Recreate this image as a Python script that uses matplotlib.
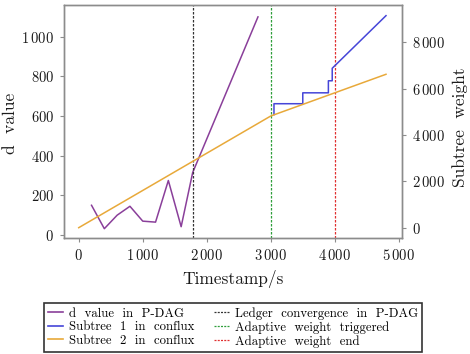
import matplotlib
matplotlib.use("Agg")
import matplotlib.pyplot as plt
from matplotlib.ticker import FuncFormatter, FixedLocator
from matplotlib.lines import Line2D

plt.rcParams['font.family'] = ['cmr10', 'DejaVu Serif']
plt.rcParams['mathtext.fontset'] = 'cm'
plt.rcParams['axes.formatter.use_mathtext'] = True

# d value in P-DAG (left axis)
d_t = [200, 400, 600, 800, 1000, 1200, 1400, 1600, 1780, 2800]
d_val = [150, 32, 100, 145, 70, 65, 275, 42, 315, 1100]

# Subtree 1 in conflux (right axis)
s1_t = [3050, 3050, 3500, 3500, 3900, 3900, 3960, 3960, 4800]
s1_w = [4880, 5350, 5350, 5820, 5820, 6340, 6340, 6880, 9150]

# Subtree 2 in conflux (right axis)
s2_t = [0, 3000, 4800]
s2_w = [0, 4820, 6620]

# vertical markers
t_conv = 1780
t_trig = 3000
t_end = 4000

x_ticks = [0, 1000, 2000, 3000, 4000, 5000]
yl_ticks = [0, 200, 400, 600, 800, 1000]
yr_ticks = [0, 2000, 4000, 6000, 8000]

c_purple = '#8a3f9a'
c_blue = '#4646d8'
c_orange = '#e8a93a'
c_grey = '#8c8c8c'

def fmt(v, pos=None):
    v = int(round(v))
    if v >= 1000:
        s = f"{v:,}".replace(",", r"\,")
    else:
        s = str(v)
    return f"${s}$"

fig = plt.figure(figsize=(4.7, 3.54), dpi=100)
ax = fig.add_axes([64/470, 1-238/354, (402-64)/470, (238-5)/354])
ax2 = ax.twinx()

ax.plot(d_t, d_val, color=c_purple, lw=1.1)
ax2.plot(s1_t, s1_w, color=c_blue, lw=1.1)
ax2.plot(s2_t, s2_w, color=c_orange, lw=1.1)
ax.axvline(t_conv, color='#333333', ls=(0, (2, 1.2)), lw=0.9)
ax.axvline(t_trig, color='#2e9e3a', ls=(0, (2, 1.2)), lw=0.9)
ax.axvline(t_end, color='#e03030', ls=(0, (2, 1.2)), lw=0.9)

ax.set_xlim(-230, 5050)
ax.set_ylim(-15, 1160)
ax2.set_ylim(-445, 9610)

ax.xaxis.set_major_locator(FixedLocator(x_ticks))
ax.yaxis.set_major_locator(FixedLocator(yl_ticks))
ax2.yaxis.set_major_locator(FixedLocator(yr_ticks))
for a in (ax.xaxis, ax.yaxis, ax2.yaxis):
    a.set_major_formatter(FuncFormatter(fmt))

for a in (ax, ax2):
    for sp in a.spines.values():
        sp.set_color(c_grey)
        sp.set_linewidth(1.0)
    a.tick_params(colors=c_grey, labelcolor='#1a1a1a', labelsize=10.5, length=3, width=0.8, pad=4)

ax.set_xlabel("Timestamp/s", fontsize=12.5, color='#1a1a1a')
ax.set_ylabel("d  value", fontsize=12.5, color='#1a1a1a')
ax2.set_ylabel("Subtree  weight", fontsize=12.5, color='#1a1a1a')
ax.xaxis.set_label_coords(0.5, -0.137)
ax.yaxis.set_label_coords(-0.136, 0.49)
ax2.yaxis.set_label_coords(1.148, 0.476)

handles = [
    Line2D([], [], color=c_purple, lw=1.2),
    Line2D([], [], color=c_blue, lw=1.2),
    Line2D([], [], color=c_orange, lw=1.2),
    Line2D([], [], color='#333333', ls=(0, (1.6, 1.0)), lw=0.9),
    Line2D([], [], color='#2e9e3a', ls=(0, (1.6, 1.0)), lw=0.9),
    Line2D([], [], color='#e03030', ls=(0, (1.6, 1.0)), lw=0.9),
]
labels = ["d  value  in  P-DAG", "Subtree  1  in  conflux", "Subtree  2  in  conflux",
          "Ledger  convergence  in  P-DAG", "Adaptive  weight  triggered", "Adaptive  weight  end"]
leg = fig.legend(handles, labels, ncol=2, loc='center', bbox_to_anchor=(233/470, 1-327.5/354),
                 fontsize=9.2, frameon=True, fancybox=False, edgecolor='black',
                 handlelength=1.2, handletextpad=0.4, columnspacing=1.6, labelspacing=0.12,
                 borderpad=0.3, borderaxespad=0)
leg.get_frame().set_linewidth(1.2)

fig.savefig("out.png", dpi=100)
